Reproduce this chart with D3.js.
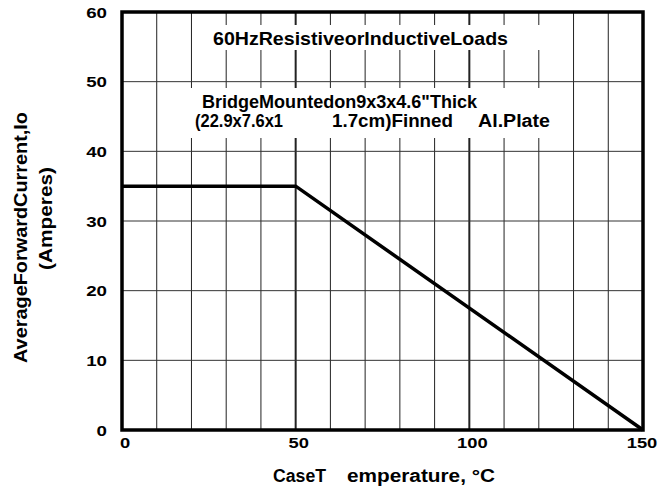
<!DOCTYPE html>
<html>
<head>
<meta charset="utf-8">
<script src="https://cdn.jsdelivr.net/npm/d3@7"></script>
<style>
  body { margin: 0; background: #fff; }
  text { font-family: "Liberation Sans", Arial, sans-serif; font-weight: bold; fill: #000; }
</style>
</head>
<body>
<svg id="chart" width="660" height="491"></svg>
<script>
// derating curve: case temperature (C) vs average forward current (A)
const caseTemp = [0, 50, 150];
const current = [35, 35, 0];

const xTicks = [0, 50, 100, 150];
const yTicks = [0, 10, 20, 30, 40, 50, 60];
const xGrid = [0, 10, 20, 30, 40, 50, 60, 70, 80, 90, 100, 110, 120, 130, 140, 150];
const xMajor = [50, 100];

const plot = { left: 122, right: 643, top: 12, bottom: 430 };

const x = d3.scaleLinear().domain([0, 150]).range([plot.left, plot.right]);
const y = d3.scaleLinear().domain([0, 60]).range([plot.bottom, plot.top]);

const svg = d3.select('#chart');

// grid
svg.append('g')
    .selectAll('line')
    .data(xGrid)
    .enter()
    .append('line')
    .attr('x1', d => x(d))
    .attr('x2', d => x(d))
    .attr('y1', plot.top)
    .attr('y2', plot.bottom)
    .attr('stroke', '#222')
    .attr('stroke-width', d => xMajor.includes(d) ? 2 : 1);

svg.append('g')
    .selectAll('line')
    .data(yTicks)
    .enter()
    .append('line')
    .attr('x1', plot.left)
    .attr('x2', plot.right)
    .attr('y1', d => y(d))
    .attr('y2', d => y(d))
    .attr('stroke', '#333')
    .attr('stroke-width', 1);

// white boxes behind the notes
svg.append('rect')
    .attr('x', 208).attr('y', 25)
    .attr('width', 345).attr('height', 25)
    .attr('fill', '#fff');
svg.append('rect')
    .attr('x', 186).attr('y', 88)
    .attr('width', 372).attr('height', 50)
    .attr('fill', '#fff');

function label(str, px, py, size, anchor, len) {
    const t = svg.append('text')
        .attr('x', px)
        .attr('y', py)
        .attr('font-size', size)
        .attr('text-anchor', anchor)
        .text(str);
    if (len) t.attr('textLength', len).attr('lengthAdjust', 'spacingAndGlyphs');
    return t;
}

label('60HzResistiveorInductiveLoads', 213, 45, 19, 'start', 295);
label('BridgeMountedon9x3x4.6"Thick', 202, 108, 18, 'start', 275);
label('(22.9x7.6x1', 195, 127, 18, 'start', 88);
label('1.7cm)Finned', 332, 127, 18, 'start', 121);
label('Al.Plate', 478, 127, 18, 'start', 72);

// curve
const line = d3.line()
    .x(d => x(d[0]))
    .y(d => y(d[1]));

svg.append('path')
    .datum(caseTemp.map((t, i) => [t, current[i]]))
    .attr('d', line)
    .attr('fill', 'none')
    .attr('stroke', '#000')
    .attr('stroke-width', 3.5)
    .attr('stroke-linejoin', 'miter');

// frame
svg.append('rect')
    .attr('x', plot.left)
    .attr('y', plot.top)
    .attr('width', plot.right - plot.left)
    .attr('height', plot.bottom - plot.top)
    .attr('fill', 'none')
    .attr('stroke', '#000')
    .attr('stroke-width', 3.5);

// tick labels
svg.append('g')
    .selectAll('text')
    .data(yTicks)
    .enter()
    .append('text')
    .attr('x', 107)
    .attr('y', d => y(d) + 5.5)
    .attr('text-anchor', 'end')
    .attr('font-size', 15)
    .attr('textLength', d => String(d).length * 10.4)
    .attr('lengthAdjust', 'spacingAndGlyphs')
    .text(d => d);

svg.append('g')
    .selectAll('text')
    .data(xTicks)
    .enter()
    .append('text')
    .attr('x', d => x(d) + (d === 0 ? 3 : d === 150 ? -1 : 3))
    .attr('y', 448)
    .attr('text-anchor', 'middle')
    .attr('font-size', 15)
    .attr('textLength', d => String(d).length * 10.2)
    .attr('lengthAdjust', 'spacingAndGlyphs')
    .text(d => d);

// axis titles
label('CaseT', 273, 482, 18, 'start', 53);
label('emperature, °C', 347, 482, 18, 'start', 148);

label('AverageForwardCurrent,Io', 0, 0, 19, 'middle', 251)
    .attr('transform', 'translate(27,237.5) rotate(-90)');
label('(Amperes)', 0, 0, 18, 'middle', 103)
    .attr('transform', 'translate(52,218.5) rotate(-90)');
</script>
</body>
</html>
